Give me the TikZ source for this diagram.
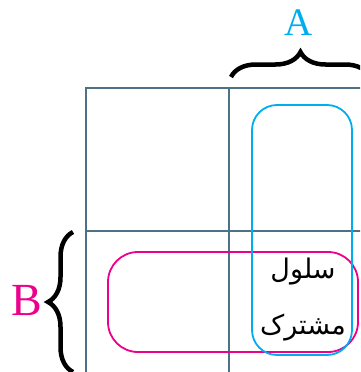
\documentclass[tikz,border=0pt]{standalone}
\usepackage{fontspec}
\newfontfamily\arabicfont[Script=Arabic]{DejaVu Sans}
\newfontfamily\letterfont{Liberation Serif}
\TeXXeTstate=1
\usetikzlibrary{decorations.pathreplacing}
\definecolor{gridgray}{HTML}{4D7285}
\definecolor{cyanA}{HTML}{00AEEF}
\definecolor{magentaB}{HTML}{EC008C}
\begin{document}
\begin{tikzpicture}[x=1pt,y=-1pt,
  gridline/.style={gridgray,line width=2pt},
  bracemark/.style={decorate,decoration={brace,amplitude=25pt},line width=4.5pt},
  loopbox/.style={draw,line width=1.8pt,inner sep=0pt,rounded corners=#1}]
  \useasboundingbox (0,0) rectangle (360,372);
  \clip (0,0) rectangle (360,372);
  % the 2x2 map, cut off at the right and at the bottom
  \coordinate (nw) at (86,88);
  \coordinate (se) at (371,372.5);
  \draw[gridline] (nw) rectangle (se);
  \draw[gridline] (228.5,88) -- (228.5,372.5);
  \draw[gridline] (86,230.5) -- (371,230.5);
  % the two groups
  \node[loopbox=30pt,magentaB,minimum width=250pt,minimum height=100pt]
    (groupB) at (233,302) {};
  \node[loopbox=25pt,cyanA,minimum width=100pt,minimum height=250pt]
    (groupA) at (302,230) {};
  \node[align=center,font=\arabicfont\fontsize{27}{56}\selectfont]
    (common) at (303,300) {\beginR سلول\endR\\\beginR مشترک\endR};
  % braces and their letters
  \coordinate (aL) at (231,77);
  \coordinate (aR) at (370,77);
  \draw[bracemark] (aL) -- (aR);
  \node[cyanA,font=\letterfont\fontsize{39}{41}\selectfont] (labelA) at (299,23) {A};
  \coordinate (bT) at (73,232);
  \coordinate (bB) at (73,372);
  \draw[bracemark] (bB) -- (bT);
  \node[magentaB,font=\letterfont\fontsize{46}{48}\selectfont] (labelB) at (27,301) {B};
\end{tikzpicture}
\end{document}
